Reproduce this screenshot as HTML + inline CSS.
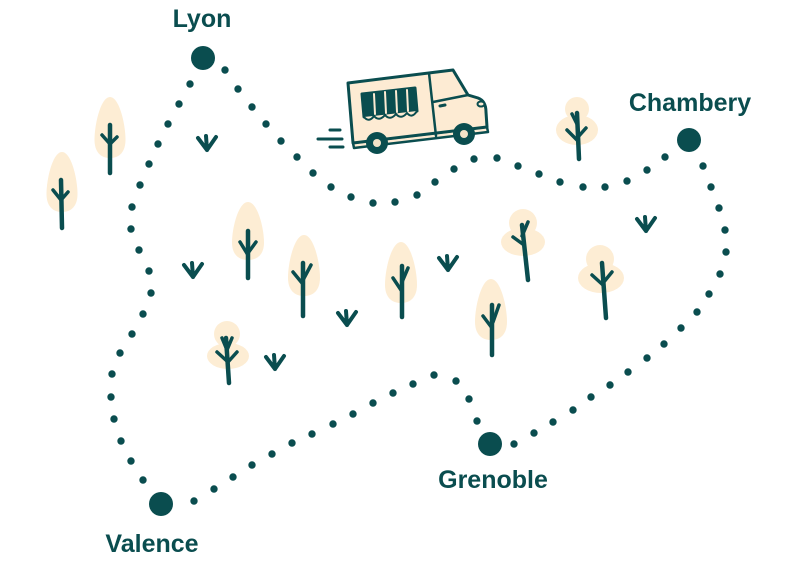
<!DOCTYPE html>
<html><head><meta charset="utf-8"><style>
html,body{margin:0;padding:0;background:#fff;}
svg{display:block;}
text{font-family:"Liberation Sans",sans-serif;font-weight:bold;font-size:25px;fill:#0a4d4f;}
</style></head><body>
<svg width="787" height="563" viewBox="0 0 787 563" xmlns="http://www.w3.org/2000/svg">
<rect width="787" height="563" fill="#fff"/>
<defs>
<g id="grass"><path d="M-9,-5 L0,7 M9,-6 L0,7 M-1,-7 L0,7" stroke="#0a4d4f" stroke-width="4" stroke-linecap="round" stroke-linejoin="round" fill="none"/></g>
</defs>

<!-- egg trees -->
<g fill="#fdedd4">
<path d="M62,152 C71.3,152 77.5,179 77.5,194 C77.5,206 71.3,212 62,212 C52.7,212 46.5,206 46.5,194 C46.5,179 52.7,152 62,152Z"/>
<path d="M110,97 C119.3,97 125.5,124.5 125.5,139.7 C125.5,151.9 119.3,158 110,158 C100.7,158 94.5,151.9 94.5,139.7 C94.5,124.5 100.7,97 110,97Z"/>
<path d="M248,202 C257.6,202 264,228 264,242.6 C264,254.2 257.6,260 248,260 C238.4,260 232,254.2 232,242.6 C232,228 238.4,202 248,202Z"/>
<path d="M304,235 C313.6,235 320,262.5 320,277.7 C320,289.9 313.6,296 304,296 C294.4,296 288,289.9 288,277.7 C288,262.5 294.4,235 304,235Z"/>
<path d="M401,242 C410.6,242 417,269.5 417,284.7 C417,296.9 410.6,303 401,303 C391.4,303 385,296.9 385,284.7 C385,269.5 391.4,242 401,242Z"/>
<path d="M491,279 C500.6,279 507,306.5 507,321.7 C507,333.9 500.6,340 491,340 C481.4,340 475,333.9 475,321.7 C475,306.5 481.4,279 491,279Z"/>
<!-- cloud trees -->
<circle cx="227" cy="334" r="13"/><ellipse cx="228" cy="356" rx="21" ry="13"/>
<circle cx="523" cy="223" r="14"/><ellipse cx="523" cy="242" rx="22" ry="14"/>
<circle cx="600" cy="259" r="14"/><ellipse cx="601" cy="278" rx="23" ry="15"/>
<circle cx="577" cy="109" r="12"/><ellipse cx="577" cy="130" rx="21" ry="15"/>
</g>

<!-- trunks -->
<g stroke="#0a4d4f" stroke-linecap="round" stroke-linejoin="round" fill="none">
<g stroke-width="4.5">
<path d="M61,180 L62,228"/>
<path d="M110,125 L110,173"/>
<path d="M248,231 L248,278"/>
<path d="M303,263 L303,316"/>
<path d="M402,266 L402,317"/>
<path d="M492,305 L492,355"/>
<path d="M226,338 L229,383"/>
<path d="M522,225 L528,280"/>
<path d="M602,263 L606,318"/>
<path d="M577,113 L579,159"/>
</g>
<g stroke-width="3.5">
<path d="M53,190 L61,200 L68,192"/>
<path d="M102,135 L110,144 L117,137"/>
<path d="M240,242 L248,255 M256,242 L248,253"/>
<path d="M293,272 L302,283 M311,265 L303,280"/>
<path d="M393,278 L401,290 M408,268 L402,282"/>
<path d="M483,316 L492,328 M499,305 L493,322"/>
<path d="M217,352 L228,362 M237,352 L228,362 M222,338 L227,350 M232,338 L227,350"/>
<path d="M513,237 L524,245 M528,222 L522,236"/>
<path d="M592,275 L603,285 M612,272 L603,283"/>
<path d="M567,130 L577,140 M586,128 L578,137 M572,114 L577,124"/>
</g>
</g>

<!-- grass -->
<use href="#grass" x="207" y="143"/>
<use href="#grass" x="193" y="270"/>
<use href="#grass" x="347" y="318"/>
<use href="#grass" x="275" y="362"/>
<use href="#grass" x="448" y="263"/>
<use href="#grass" x="646" y="224"/>

<!-- dotted route -->
<g fill="#0a4d4f">
<circle cx="203" cy="58" r="12"/>
<circle cx="689" cy="140" r="12"/>
<circle cx="490" cy="444" r="12"/>
<circle cx="161" cy="504" r="12"/>
<g>
<circle cx="225" cy="70" r="3.7"/><circle cx="238" cy="89" r="3.7"/><circle cx="252" cy="107" r="3.7"/><circle cx="266" cy="124" r="3.7"/><circle cx="281" cy="141" r="3.7"/><circle cx="297" cy="157" r="3.7"/><circle cx="313" cy="173" r="3.7"/><circle cx="331" cy="187" r="3.7"/><circle cx="351" cy="197" r="3.7"/><circle cx="373" cy="203" r="3.7"/><circle cx="395" cy="202" r="3.7"/><circle cx="417" cy="195" r="3.7"/><circle cx="435" cy="182" r="3.7"/><circle cx="454" cy="169" r="3.7"/><circle cx="474" cy="159" r="3.7"/><circle cx="497" cy="158" r="3.7"/><circle cx="518" cy="166" r="3.7"/><circle cx="539" cy="174" r="3.7"/><circle cx="560" cy="182" r="3.7"/><circle cx="583" cy="187" r="3.7"/><circle cx="605" cy="187" r="3.7"/><circle cx="627" cy="181" r="3.7"/><circle cx="647" cy="170" r="3.7"/><circle cx="665" cy="157" r="3.7"/>
<circle cx="703" cy="166" r="3.7"/><circle cx="711" cy="187" r="3.7"/><circle cx="719" cy="208" r="3.7"/><circle cx="725" cy="230" r="3.7"/><circle cx="726" cy="252" r="3.7"/><circle cx="720" cy="274" r="3.7"/><circle cx="709" cy="294" r="3.7"/><circle cx="697" cy="312" r="3.7"/><circle cx="681" cy="328" r="3.7"/><circle cx="664" cy="344" r="3.7"/><circle cx="647" cy="358" r="3.7"/><circle cx="628" cy="372" r="3.7"/><circle cx="610" cy="385" r="3.7"/><circle cx="591" cy="397" r="3.7"/><circle cx="573" cy="410" r="3.7"/><circle cx="553" cy="422" r="3.7"/><circle cx="534" cy="433" r="3.7"/><circle cx="514" cy="444" r="3.7"/>
<circle cx="477" cy="421" r="3.7"/><circle cx="469" cy="399" r="3.7"/><circle cx="456" cy="381" r="3.7"/><circle cx="434" cy="375" r="3.7"/><circle cx="413" cy="384" r="3.7"/><circle cx="393" cy="393" r="3.7"/><circle cx="373" cy="403" r="3.7"/><circle cx="353" cy="414" r="3.7"/><circle cx="333" cy="424" r="3.7"/><circle cx="312" cy="434" r="3.7"/><circle cx="292" cy="443" r="3.7"/><circle cx="272" cy="454" r="3.7"/><circle cx="252" cy="465" r="3.7"/><circle cx="233" cy="477" r="3.7"/><circle cx="214" cy="489" r="3.7"/><circle cx="194" cy="501" r="3.7"/>
<circle cx="143" cy="480" r="3.7"/><circle cx="131" cy="461" r="3.7"/><circle cx="121" cy="441" r="3.7"/><circle cx="114" cy="419" r="3.7"/><circle cx="111" cy="397" r="3.7"/><circle cx="112" cy="374" r="3.7"/><circle cx="120" cy="353" r="3.7"/><circle cx="132" cy="334" r="3.7"/><circle cx="143" cy="314" r="3.7"/><circle cx="151" cy="293" r="3.7"/><circle cx="149" cy="271" r="3.7"/><circle cx="139" cy="250" r="3.7"/><circle cx="131" cy="229" r="3.7"/><circle cx="132" cy="207" r="3.7"/><circle cx="140" cy="185" r="3.7"/><circle cx="149" cy="164" r="3.7"/><circle cx="158" cy="144" r="3.7"/><circle cx="168" cy="124" r="3.7"/><circle cx="179" cy="104" r="3.7"/><circle cx="190" cy="84" r="3.7"/>
</g>
</g>

<!-- truck -->
<g stroke="#0a4d4f" stroke-linecap="round" stroke-linejoin="round">
<path d="M330,130 L340,130 M318,139 L342,139 M330,147 L343,147" stroke-width="3" fill="none"/>
<path d="M353,143 L487,127 L488,132 L354,148 Z" fill="#fdebd3" stroke-width="2.5"/>
<path d="M348,83 L453,70 L468,95 L478,98 Q486,101 486,112 L487,127 L353,143 Z" fill="#fdebd3" stroke-width="3"/>
<path d="M429,73 L436,136" fill="none" stroke-width="2.5"/>
<path d="M433,102 L468,95" fill="none" stroke-width="2.5"/>
<ellipse cx="481" cy="104" rx="3.5" ry="2.5" fill="#fdebd3" stroke-width="2"/>
<path d="M440,106 L445,105" stroke-width="3"/>
<path d="M362,94 L415,88 L417,111 L364,117 Z" fill="#0a4d4f" stroke-width="3"/>
<path d="M374,94 L375,114 M385,92 L386,113 M396,91 L397,112 M407,90 L408,111" stroke="#fdebd3" stroke-width="2"/>
<path d="M364,117 q5,6 10,-1 q5,6 11,-1 q5,6 11,-1 q5,6 11,-1 q5,6 10,-2" fill="#fdebd3" stroke-width="2"/>
<circle cx="377" cy="143" r="11" fill="#0a4d4f" stroke="none"/>
<circle cx="377" cy="143" r="4" fill="#f3e3c8" stroke="none"/>
<circle cx="464" cy="134" r="11" fill="#0a4d4f" stroke="none"/>
<circle cx="464" cy="134" r="4" fill="#f3e3c8" stroke="none"/>
</g>

<!-- labels -->
<text x="202" y="27" text-anchor="middle">Lyon</text>
<text x="690" y="111" text-anchor="middle">Chambery</text>
<text x="493" y="488" text-anchor="middle">Grenoble</text>
<text x="152" y="552" text-anchor="middle">Valence</text>
</svg>
</body></html>
